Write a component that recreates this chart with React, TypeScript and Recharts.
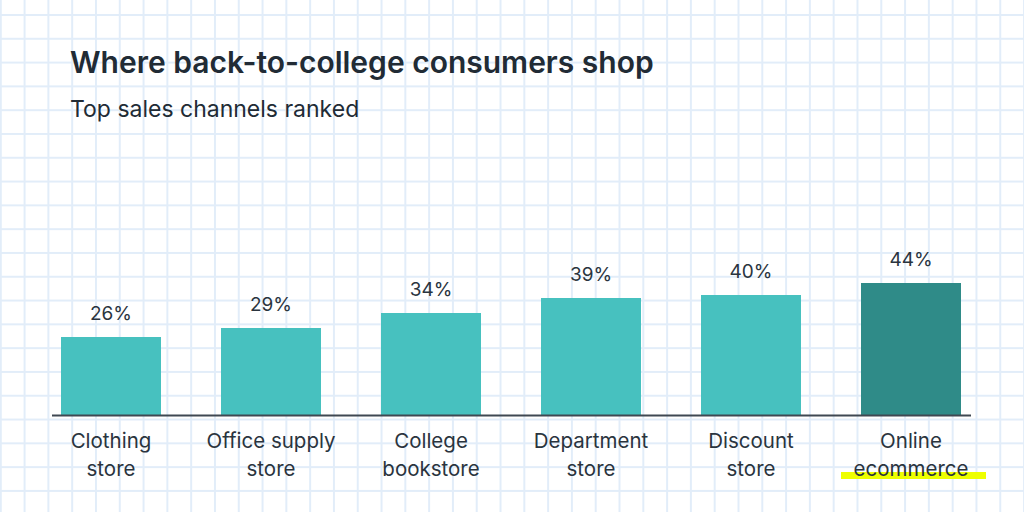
import React from 'react';
import { BarChart, Bar, XAxis, YAxis, Cell, LabelList, ReferenceLine } from 'recharts';

const channels = [
  ['Clothing', 'store'],
  ['Office supply', 'store'],
  ['College', 'bookstore'],
  ['Department', 'store'],
  ['Discount', 'store'],
  ['Online', 'ecommerce'],
];
const shares = [26, 29, 34, 39, 40, 44];
const highlighted = [false, false, false, false, false, true];

const data = channels.map((lines, i) => ({
  name: lines.join(' '),
  lines,
  value: shares[i],
  highlight: highlighted[i],
}));

const TEXT = '#2a343e';
const FONT = 'Inter, "Noto Sans", sans-serif';

const CategoryTick = (props: any) => {
  const { x, y, payload, index } = props;
  const item = data[index] || data.find((d) => d.name === payload.value);
  if (!item) return null;
  return (
    <g>
      {item.highlight && (
        <rect x={x - 70} y={y + 57} width={145} height={7} fill="#eeff00" />
      )}
      {item.lines.map((line: string, i: number) => (
        <text
          key={i}
          x={x}
          y={y + 33 + i * 28}
          textAnchor="middle"
          fill={TEXT}
          fontFamily={FONT}
          fontSize={20.5}
        >
          {line}
        </text>
      ))}
    </g>
  );
};

const ValueLabel = (props: any) => {
  const { x, y, width, value } = props;
  return (
    <text
      x={x + width / 2}
      y={y - 17}
      textAnchor="middle"
      fill={TEXT}
      fontFamily={FONT}
      fontSize={19}
    >
      {value}%
    </text>
  );
};

const Baseline = (props: any) => {
  const { x1, x2, y1 } = props;
  return <line x1={x1 + 21} x2={x2 - 20} y1={y1 + 0.5} y2={y1 + 0.5} stroke="#3f4852" strokeWidth={2} />;
};

export default function App() {
  return (
    <div
      style={{
        position: 'absolute',
        left: 0,
        top: 0,
        width: 1024,
        height: 512,
        background: '#ffffff',
        backgroundImage:
          'linear-gradient(to right, #e2edf9 1.5px, transparent 1.5px), linear-gradient(to bottom, #e2edf9 1.5px, transparent 1.5px)',
        backgroundSize: '23.8px 23.8px',
        backgroundPosition: '23.6px 14px',
        overflow: 'hidden',
      }}
    >
      <div
        style={{
          position: 'absolute',
          left: 70,
          top: 44,
          fontFamily: FONT,
          fontWeight: 600,
          fontSize: 30,
          color: '#212b35',
          whiteSpace: 'nowrap',
        }}
      >
        Where back-to-college consumers shop
      </div>
      <div
        style={{
          position: 'absolute',
          left: 70,
          top: 95,
          fontFamily: FONT,
          fontSize: 23,
          color: '#212b35',
          whiteSpace: 'nowrap',
        }}
      >
        Top sales channels ranked
      </div>
      <div style={{ position: 'absolute', left: 0, top: 0 }}>
        <BarChart
          width={1024}
          height={512}
          data={data}
          margin={{ top: 115, right: 33, bottom: 0, left: 31 }}
          barCategoryGap={30}
        >
          <YAxis hide domain={[0, 100]} />
          <XAxis
            dataKey="name"
            axisLine={false}
            tickLine={false}
            tickSize={0}
            tickMargin={0}
            height={97}
            interval={0}
            tick={<CategoryTick />}
          />
          <Bar dataKey="value" barSize={100} isAnimationActive={false}>
            {data.map((d, i) => (
              <Cell key={i} fill={d.highlight ? '#2f8b88' : '#47c1bf'} />
            ))}
            <LabelList dataKey="value" content={<ValueLabel />} />
          </Bar>
          <ReferenceLine y={0} shape={<Baseline />} ifOverflow="extendDomain" />
        </BarChart>
      </div>
    </div>
  );
}
